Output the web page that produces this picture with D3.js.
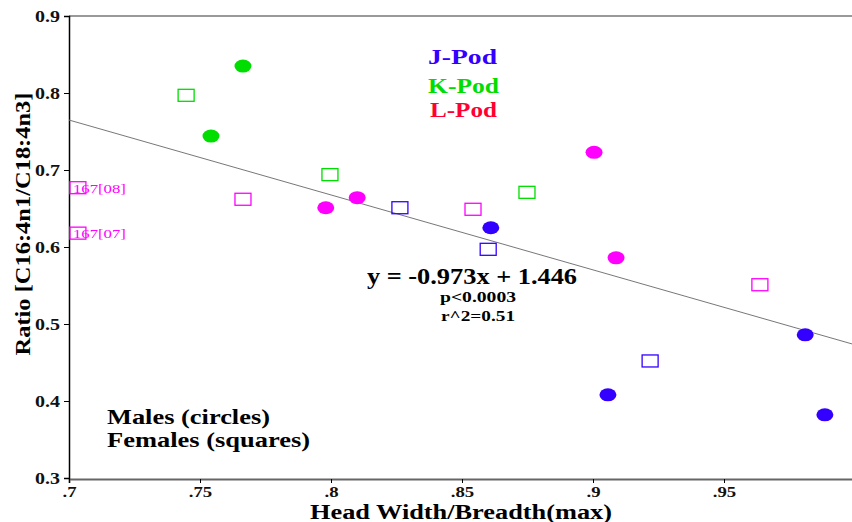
<!DOCTYPE html>
<html>
<head>
<meta charset="utf-8">
<script src="https://cdn.jsdelivr.net/npm/d3@7"></script>
<style>
  body { margin: 0; background: #fff; }
  svg text { font-family: "Liberation Serif", "Times New Roman", serif; font-weight: bold; }
</style>
</head>
<body>
<div id="chart"></div>
<script>
// pods: J blue, K green, L magenta
const podColors = { J: "#3300ff", K: "#00dd00", L: "#ff00ff" };

// males (circles)
const maleX   = [0.7664, 0.7542, 0.798, 0.810, 0.9004, 0.9088, 0.861, 0.9057, 0.981, 0.9885];
const maleY   = [0.835, 0.744, 0.651, 0.664, 0.723, 0.586, 0.625, 0.408, 0.486, 0.382];
const malePod = ["K", "K", "L", "L", "L", "L", "J", "J", "J", "J"];

// females (squares)
const femaleX   = [0.7447, 0.7996, 0.8748, 0.8263, 0.860, 0.9218, 0.7664, 0.8542, 0.9637, 0.7034, 0.7034];
const femaleY   = [0.797, 0.694, 0.671, 0.651, 0.597, 0.452, 0.662, 0.649, 0.551, 0.677, 0.618];
const femalePod = ["K", "K", "K", "J", "J", "J", "L", "L", "L", "L", "L"];
const femaleTag = ["", "", "", "", "", "", "", "", "", "167[08]", "167[07]"];

const xTicks = [0.7, 0.75, 0.8, 0.85, 0.9, 0.95];
const xTickLabels = [".7", ".75", ".8", ".85", ".9", ".95"];
const yTicks = [0.3, 0.4, 0.5, 0.6, 0.7, 0.8, 0.9];

const slope = -0.973, intercept = 1.446;

const width = 852, height = 522;
const margin = { top: 16, left: 69, bottom: 44 };
const plotRight = 855;

const svg = d3.select("#chart").append("svg")
    .attr("width", width)
    .attr("height", height);

// the original font is a wide bold serif, so stretch text horizontally
function stretch(sel, factor) {
    sel.each(function() {
        const w = this.getComputedTextLength();
        d3.select(this).attr("textLength", w * factor).attr("lengthAdjust", "spacingAndGlyphs");
    });
}
function fit(sel, len) {
    sel.attr("textLength", len).attr("lengthAdjust", "spacingAndGlyphs");
    return sel;
}

const x = d3.scaleLinear().domain([0.7, 1.0]).range([margin.left, plotRight]);
const y = d3.scaleLinear().domain([0.3, 0.9]).range([height - margin.bottom, margin.top]);

// frame top
svg.append("line")
    .attr("x1", margin.left).attr("x2", width)
    .attr("y1", y(0.9)).attr("y2", y(0.9))
    .attr("stroke", "#777").attr("stroke-width", 1.5);

// x axis
const xAxis = svg.append("g")
    .attr("transform", `translate(0,${y(0.3) + 1})`)
    .call(d3.axisBottom(x).tickValues(xTicks).tickSize(4)
        .tickFormat((d, i) => xTickLabels[i]));
xAxis.select(".domain").attr("stroke", "#666").attr("stroke-width", 2);
xAxis.selectAll("text").attr("font-size", 15).attr("fill", "#111").attr("dy", "0.75em")
    .call(stretch, 1.25);

// y axis
const yAxis = svg.append("g")
    .attr("transform", `translate(${margin.left},0)`)
    .call(d3.axisLeft(y).tickValues(yTicks).tickSize(5).tickFormat(d3.format(".1f")));
yAxis.select(".domain").attr("stroke", "#000").attr("stroke-width", 1.5);
yAxis.selectAll("text").attr("font-size", 16).attr("fill", "#111").attr("x", -9)
    .call(stretch, 1.25);

// axis titles
svg.append("text")
    .attr("x", 461).attr("y", 519)
    .attr("text-anchor", "middle")
    .attr("font-size", 20)
    .text("Head Width/Breadth(max)")
    .call(fit, 302);

svg.append("text")
    .attr("transform", `translate(30,224) rotate(-90)`)
    .attr("text-anchor", "middle")
    .attr("font-size", 22)
    .text("Ratio [C16:4n1/C18:4n3]")
    .call(fit, 263);

// regression line
svg.append("line")
    .attr("x1", x(0.7)).attr("y1", y(slope * 0.7 + intercept))
    .attr("x2", x(1.0)).attr("y2", y(slope * 1.0 + intercept))
    .attr("stroke", "#777").attr("stroke-width", 1);

// squares
const females = femaleX.map((d, i) => ({ x: d, y: femaleY[i], pod: femalePod[i], tag: femaleTag[i] }));
svg.selectAll(".sq").data(females).join("rect")
    .attr("class", "sq")
    .attr("x", d => x(d.x) - 8)
    .attr("y", d => y(d.y) - 6)
    .attr("width", 16).attr("height", 12)
    .attr("fill", "none")
    .attr("stroke", d => podColors[d.pod])
    .attr("stroke-width", 1.3);

svg.selectAll(".tag").data(females.filter(d => d.tag)).join("text")
    .attr("class", "tag")
    .attr("x", d => x(d.x) - 5)
    .attr("y", d => y(d.y) + 5)
    .attr("font-size", 13)
    .style("font-weight", "normal")
    .attr("fill", podColors.L)
    .text(d => d.tag)
    .call(fit, 53);

// circles
const males = maleX.map((d, i) => ({ x: d, y: maleY[i], pod: malePod[i] }));
svg.selectAll(".ci").data(males).join("ellipse")
    .attr("class", "ci")
    .attr("cx", d => x(d.x))
    .attr("cy", d => y(d.y))
    .attr("rx", 8.5).attr("ry", 6.5)
    .attr("fill", d => podColors[d.pod]);

// pod legend
const podLegend = [
    { label: "J-Pod", color: "#3300ff", x: 428, y: 64, w: 69 },
    { label: "K-Pod", color: "#00dd00", x: 428, y: 93, w: 71 },
    { label: "L-Pod", color: "#ff0033", x: 430, y: 117, w: 67 }
];
svg.selectAll(".podlab").data(podLegend).join("text")
    .attr("class", "podlab")
    .attr("x", d => d.x).attr("y", d => d.y)
    .attr("font-size", 21)
    .attr("fill", d => d.color)
    .attr("textLength", d => d.w).attr("lengthAdjust", "spacingAndGlyphs")
    .text(d => d.label);

// sex legend
svg.append("text").attr("x", 107).attr("y", 424).attr("font-size", 21).text("Males (circles)").call(fit, 163);
svg.append("text").attr("x", 107).attr("y", 447).attr("font-size", 21).text("Females (squares)").call(fit, 203);

// equation
svg.append("text").attr("x", 367).attr("y", 284)
    .attr("font-size", 23).text("y = -0.973x + 1.446").call(fit, 210);
svg.append("text").attr("x", 440).attr("y", 302)
    .attr("font-size", 15).text("p<0.0003").call(fit, 76);
svg.append("text").attr("x", 441).attr("y", 321)
    .attr("font-size", 15).text("r^2=0.51").call(fit, 74);
</script>
</body>
</html>
